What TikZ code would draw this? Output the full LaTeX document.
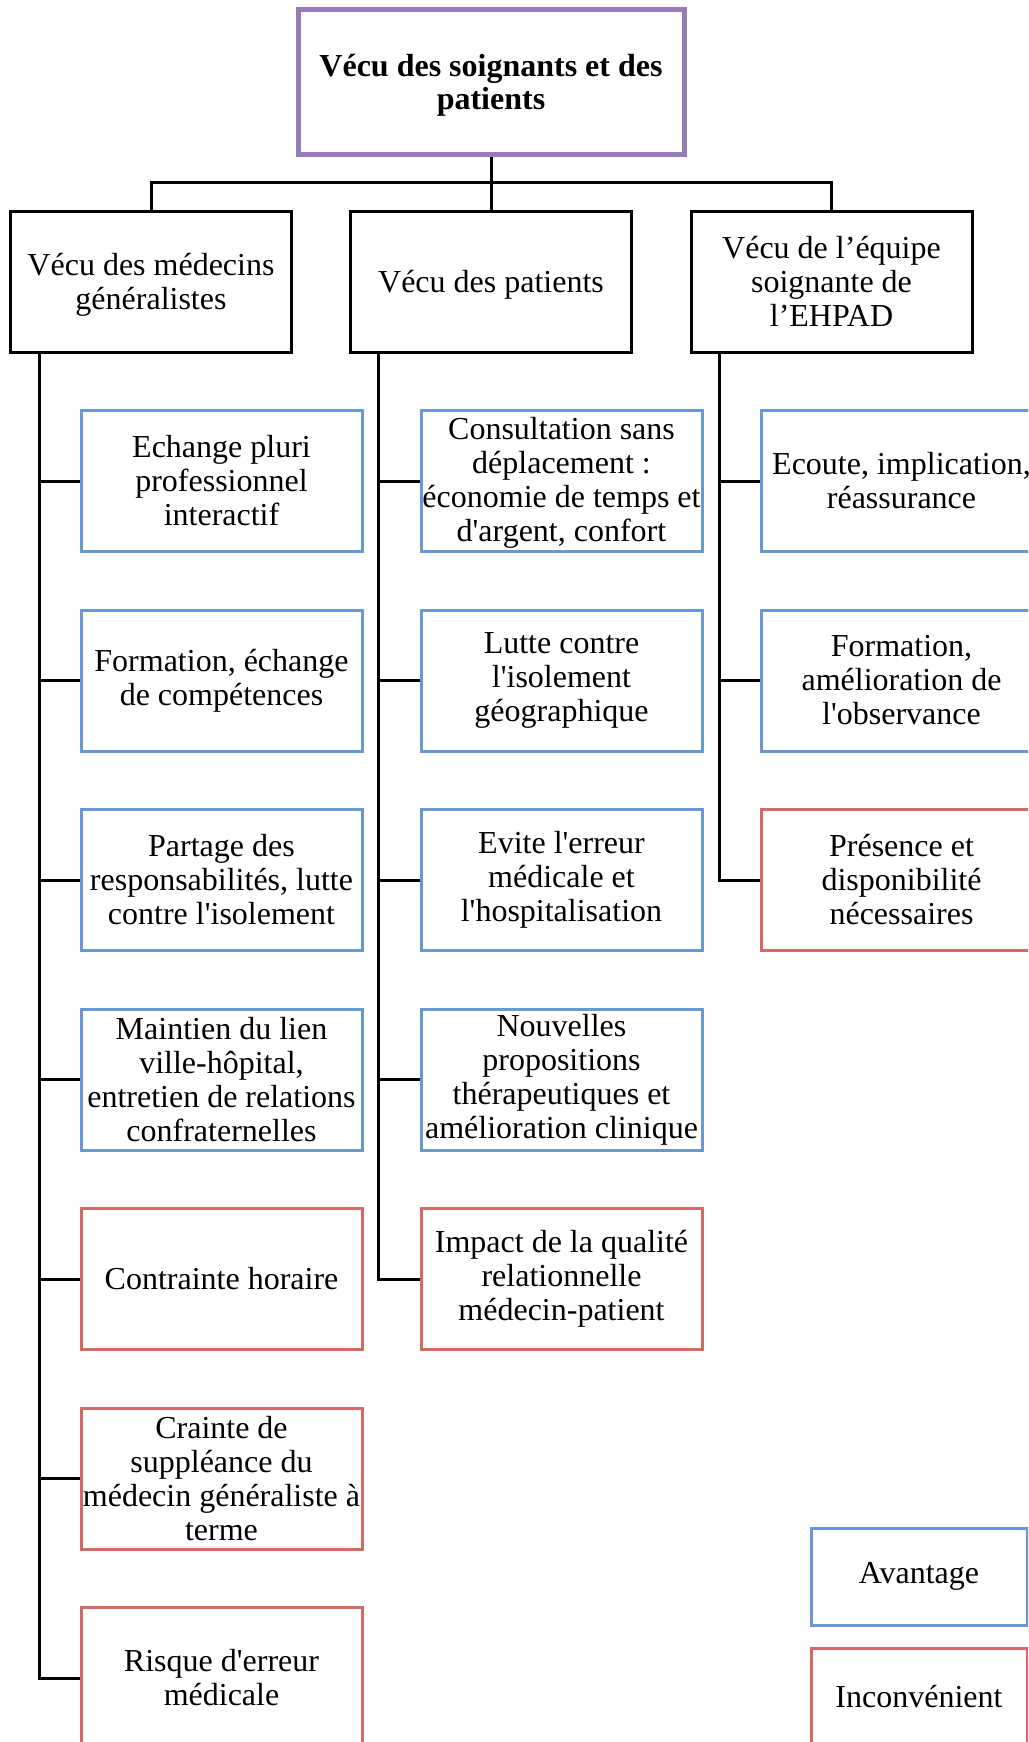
\documentclass[tikz,border=0pt]{standalone}
\usepackage{fontspec}
\newfontfamily\rf{Liberation Serif}
\definecolor{purp}{RGB}{150,124,184}
\definecolor{blu}{RGB}{104,153,210}
\definecolor{redb}{RGB}{212,106,102}
\newcommand\dropstrut[1]{\rule{0pt}{#1}}
\tikzset{
  txt/.style={font=\rf\fontsize{32}{34}\selectfont, align=center, inner sep=0pt},
  topbox/.style={txt, draw=purp, line width=5pt, minimum width=386pt, minimum height=144pt, font=\rf\bfseries\fontsize{32}{33}\selectfont},
  catbox/.style={txt, draw=black, line width=3pt, minimum width=281pt, minimum height=141pt},
  probox/.style={txt, draw=blu, line width=3pt, minimum width=281pt, minimum height=141pt},
  conbox/.style={txt, draw=redb, line width=3pt, minimum width=281pt, minimum height=141pt},
  legpro/.style={probox, minimum width=216pt, minimum height=97pt},
  legcon/.style={conbox, minimum width=216pt, minimum height=97pt},
  conn/.style={draw=black, line width=3pt}
}
\begin{document}
\begin{tikzpicture}[x=1pt,y=-1pt]
\useasboundingbox (0,0) rectangle (1028,1742);
\clip (0,0) rectangle (1028,1742);
% top
\node[topbox] (top) at (491,82) {\dropstrut{29pt}Vécu des soignants et des\\patients};
% level 2
\node[catbox] (l1) at (151,281.5) {\dropstrut{28pt}Vécu des médecins\\généralistes};
\node[catbox] (l2) at (491,281.5) {\dropstrut{28pt}Vécu des patients};
\node[catbox] (l3) at (831.5,281.5) {Vécu de l’équipe\\soignante de\\l’EHPAD};
\coordinate (bus) at (491,182);
\draw[conn] (top.south) -- (l2.north);
\draw[conn] (l1.north) |- (bus) -| (l3.north);
% column 1
\node[probox] (a1) at (221.5,481) {Echange pluri\\professionnel\\interactif};
\node[probox] (a2) at (221.5,680.5) {Formation, échange\\de compétences};
\node[probox] (a3) at (221.5,880) {Partage des\\responsabilités, lutte\\contre l'isolement};
\node[probox] (a4) at (221.5,1079.5) {Maintien du lien\\ville-hôpital,\\entretien de relations\\confraternelles};
\node[conbox] (a5) at (221.5,1279) {Contrainte horaire};
\node[conbox] (a6) at (221.5,1478.5) {Crainte de\\suppléance du\\médecin généraliste à\\terme};
\node[conbox] (a7) at (221.5,1678) {Risque d'erreur\\médicale};
% column 2
\node[probox] (b1) at (561.5,481) {\dropstrut{26.5pt}Consultation sans\\déplacement :\\économie de temps et\\d'argent, confort};
\node[probox] (b2) at (561.5,680.5) {Lutte contre\\l'isolement\\géographique};
\node[probox] (b3) at (561.5,880) {Evite l'erreur\\médicale et\\l'hospitalisation};
\node[probox] (b4) at (561.5,1079.5) {Nouvelles\\propositions\\thérapeutiques et\\amélioration clinique};
\node[conbox] (b5) at (561.5,1279) {Impact de la qualité\\relationnelle\\médecin-patient};
% column 3
\node[probox] (c1) at (901.5,481) {Ecoute, implication,\\réassurance};
\node[probox] (c2) at (901.5,680.5) {Formation,\\amélioration de\\l'observance};
\node[conbox] (c3) at (901.5,880) {Présence et\\disponibilité\\nécessaires};
% legend
\node[legpro] (lp) at (919,1576.5) {Avantage};
\node[legcon] (lc) at (919,1696.5) {Inconvénient};
% column trunks
\coordinate (t1) at (39,352);
\coordinate (t2) at (378,352);
\coordinate (t3) at (719,352);
\draw[conn] (t1) |- (a7.west);
\foreach \n in {a1,a2,a3,a4,a5,a6} \draw[conn] (\n.west) -- (\n.west -| t1);
\draw[conn] (t2) |- (b5.west);
\foreach \n in {b1,b2,b3,b4} \draw[conn] (\n.west) -- (\n.west -| t2);
\draw[conn] (t3) |- (c3.west);
\foreach \n in {c1,c2} \draw[conn] (\n.west) -- (\n.west -| t3);
\end{tikzpicture}
\end{document}
